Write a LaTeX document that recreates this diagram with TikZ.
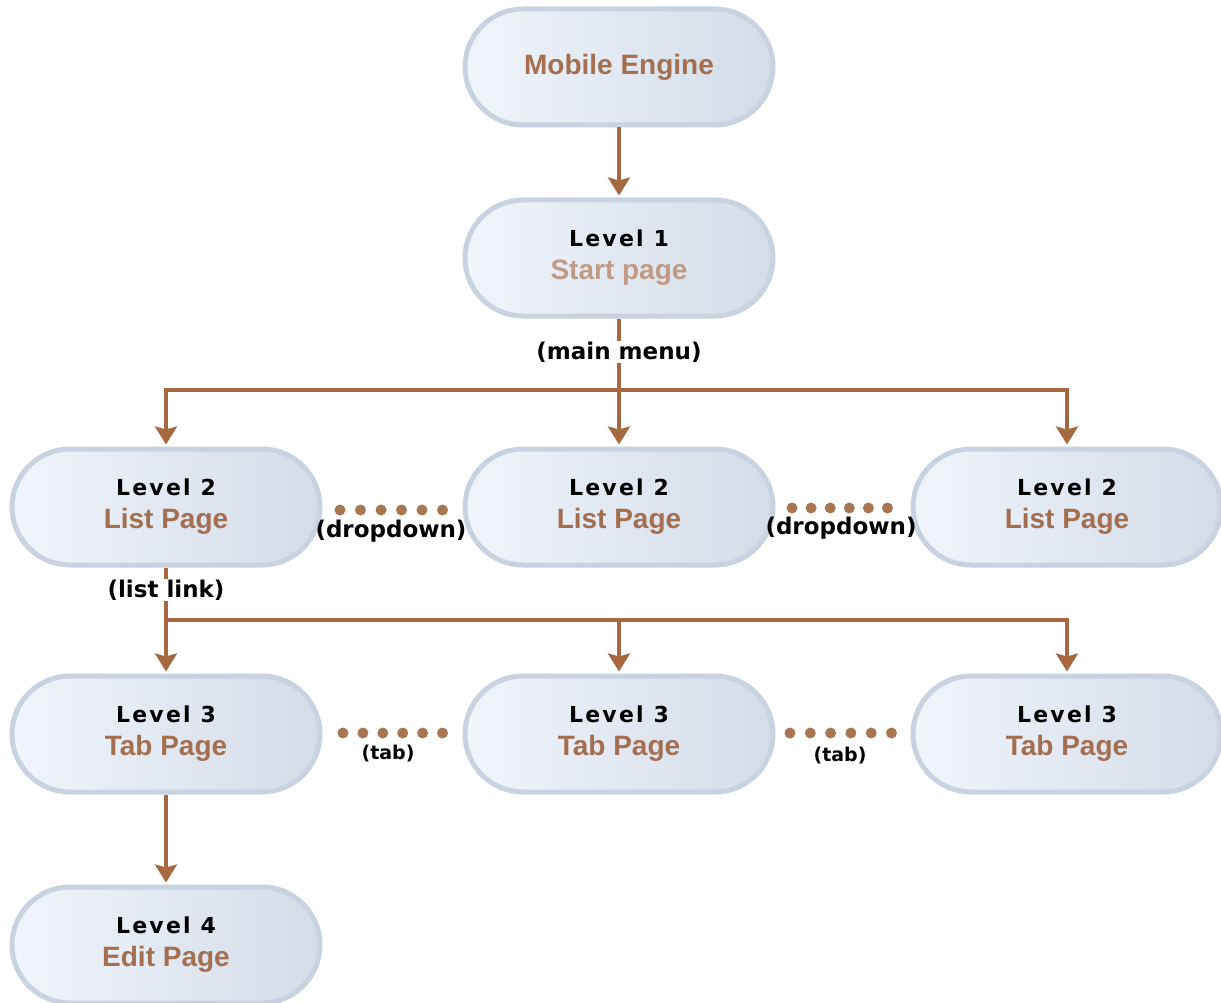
\documentclass[tikz,border=0pt]{standalone}
\usepackage{fontspec}
\setmainfont{DejaVu Sans}
\newfontfamily\lvlfont[LetterSpace=10]{DejaVu Sans}
\newfontfamily\pgfont{Liberation Sans}
\newfontfamily\lblfont{DejaVu Sans}
\usetikzlibrary{arrows.meta,shapes.misc}
\definecolor{arr}{HTML}{A5683F}
\definecolor{dotc}{HTML}{A87650}
\definecolor{brownt}{HTML}{A46F50}
\definecolor{browntl}{HTML}{C09A84}
\definecolor{nodeborder}{HTML}{C8D2E0}
\definecolor{nodeL}{HTML}{F1F5FB}
\definecolor{nodeR}{HTML}{D3DCE8}
\newcommand\lvltxt[1]{{\lvlfont\bfseries\fontsize{22}{33}\selectfont #1}}
\newcommand\pgtxt[1]{{\pgfont\bfseries\fontsize{28}{33}\selectfont\color{brownt}#1}}
\tikzset{
  pill/.style={rounded rectangle, minimum width=308pt, minimum height=116pt,
    draw=nodeborder, line width=5pt, left color=nodeL, right color=nodeR,
    align=center, inner sep=0pt, font=\fontsize{28}{33}\selectfont},
  conn/.style={draw=arr, line width=4pt},
  arrowc/.style={conn, -{Stealth[width=22pt,length=18pt,inset=3pt]}, shorten >=2pt},
  dotrow/.style={draw=dotc, line width=11pt, line cap=round, dash pattern=on 0pt off #1},
  lbl/.style={font=\lblfont\bfseries\fontsize{23}{23}\selectfont, fill=white, inner sep=1pt},
  lbln/.style={font=\lblfont\bfseries\fontsize{23}{23}\selectfont, inner sep=1pt},
  lbls/.style={font=\lblfont\bfseries\fontsize{19}{19}\selectfont, inner sep=1pt},
}
\begin{document}
\begin{tikzpicture}[x=1pt,y=-1pt]
\fill[white] (0,0) rectangle (1221,1003);
\useasboundingbox (0,0) rectangle (1221,1003);

\node[pill] (me)  at (619,67)  {\pgtxt{Mobile Engine}};
\node[pill] (l1)  at (619,258) {\lvltxt{Level 1}\\{\pgfont\bfseries\fontsize{28}{33}\selectfont\color{browntl}Start page}};
\node[pill] (l2a) at (166,507) {\lvltxt{Level 2}\\\pgtxt{List Page}};
\node[pill] (l2b) at (619,507) {\lvltxt{Level 2}\\\pgtxt{List Page}};
\node[pill] (l2c) at (1067,507) {\lvltxt{Level 2}\\\pgtxt{List Page}};
\node[pill] (l3a) at (166,734) {\lvltxt{Level 3}\\\pgtxt{Tab Page}};
\node[pill] (l3b) at (619,734) {\lvltxt{Level 3}\\\pgtxt{Tab Page}};
\node[pill] (l3c) at (1067,734) {\lvltxt{Level 3}\\\pgtxt{Tab Page}};
\node[pill] (l4)  at (166,945) {\lvltxt{Level 4}\\\pgtxt{Edit Page}};

% connectors
\draw[arrowc] (me.south) -- (l1.north);

\coordinate (j1) at (619,390);
\draw[conn] (l1.south) -- (j1);
\draw[arrowc] (j1) -| (l2a.north);
\draw[arrowc] (j1) -| (l2c.north);
\draw[arrowc] (j1) -- (l2b.north);
\node[lbl] (mm) at (619,352) {(main menu)};

\coordinate (j2) at (166,620);
\draw[conn] (l2a.south) -- (j2);
\draw[arrowc] (j2) -- (l3a.north);
\draw[arrowc] (j2) -| (l3b.north);
\draw[arrowc] (j2) -| (l3c.north);
\node[lbl] (ll) at (166,590) {(list link)};

\draw[arrowc] (l3a.south) -- (l4.north);

% dotted links
\draw[dotrow=20.5pt, shorten <=17.5pt, shorten >=19.5pt] ([yshift=-3pt]l2a.east) -- ([yshift=-3pt]l2b.west);
\draw[dotrow=19.1pt, shorten <=16.5pt, shorten >=22.5pt] ([yshift=-1pt]l2b.east) -- ([yshift=-1pt]l2c.west);
\draw[dotrow=19.9pt, shorten <=20.5pt, shorten >=19.5pt] ([yshift=1pt]l3a.east) -- ([yshift=1pt]l3b.west);
\draw[dotrow=20.3pt, shorten <=14.5pt, shorten >=18.5pt] ([yshift=1pt]l3b.east) -- ([yshift=1pt]l3c.west);

\node[lbln] (dd1) at (391,531) {(dropdown)};
\node[lbln] (dd2) at (841,528) {(dropdown)};
\node[lbls] (tb1) at (388,754) {(tab)};
\node[lbls] (tb2) at (840,756) {(tab)};
\end{tikzpicture}
\end{document}
